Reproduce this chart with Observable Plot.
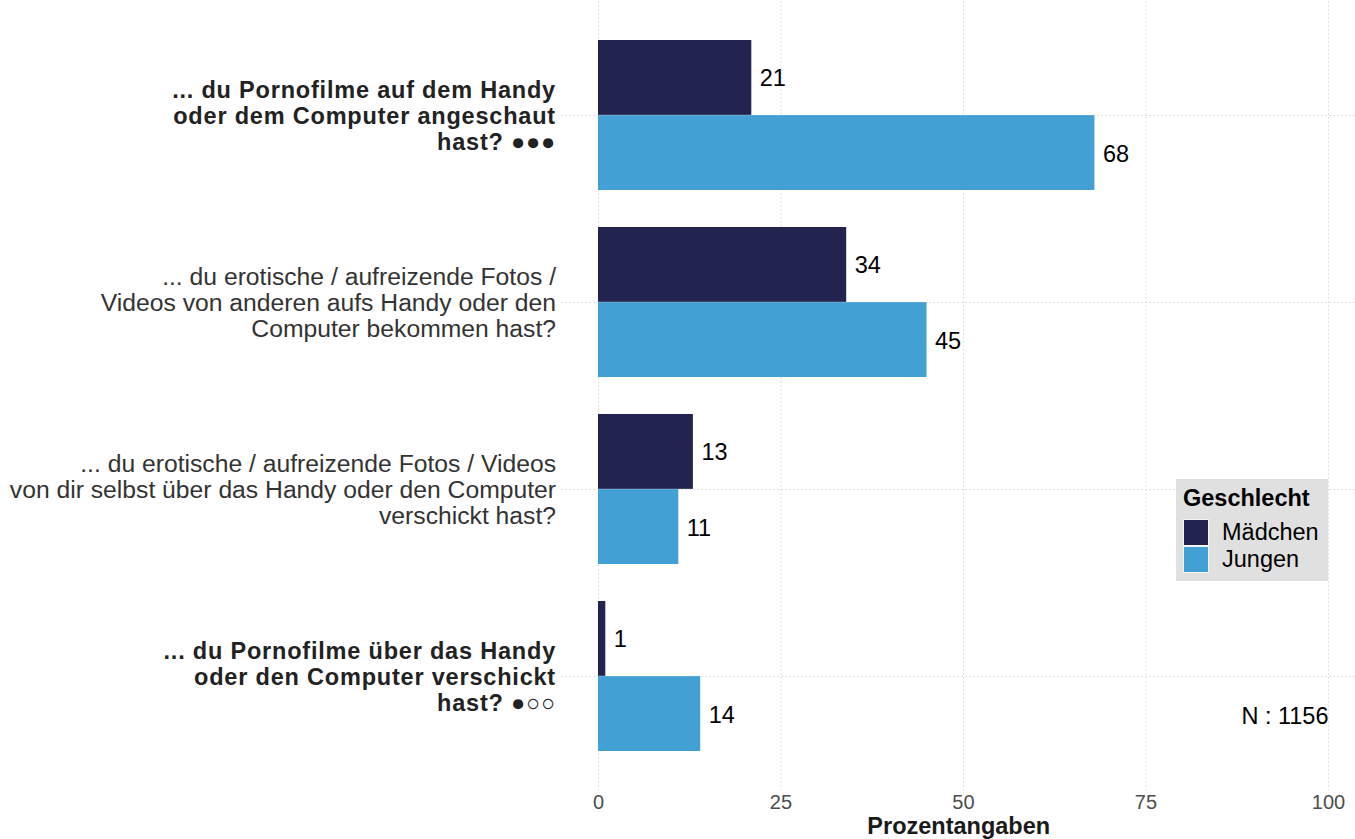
<!DOCTYPE html>
<html>
<head>
<meta charset="utf-8">
<script src="https://cdn.jsdelivr.net/npm/d3@7"></script>
<script src="https://cdn.jsdelivr.net/npm/@observablehq/plot@0.6"></script>
<style>
  html, body { margin: 0; padding: 0; background: #fff; }
  body { font-family: "Liberation Sans", Arial, sans-serif; }
  #wrap { position: relative; width: 1355px; height: 839px; overflow: hidden; }
  [aria-label="x-axis label"] text { font-weight: bold; fill: #1a1a1a; }
  #legend { position: absolute; left: 1176px; top: 479px; width: 152px; height: 102px;
            background: #e0e0e0; box-sizing: border-box; padding: 5px 0 0 7px; }
  #legend .t { font-weight: bold; font-size: 23.5px; color: #000; line-height: 28px; margin-bottom: 7px; }
  #legend .r { display: flex; align-items: center; height: 27px; font-size: 23.5px; color: #000; }
  #legend .s { width: 26px; height: 27px; margin-right: 13px; box-sizing: border-box; border: 1px solid #f4f4f4; }
</style>
</head>
<body>
<div id="wrap"></div>
<script>
const categories = [
  "... du Pornofilme auf dem Handy\noder dem Computer angeschaut\nhast? ●●●",
  "... du erotische / aufreizende Fotos /\nVideos von anderen aufs Handy oder den\nComputer bekommen hast?",
  "... du erotische / aufreizende Fotos / Videos\nvon dir selbst über das Handy oder den Computer\nverschickt hast?",
  "... du Pornofilme über das Handy\noder den Computer verschickt\nhast? ●○○"
];
const boldLabels = [true, false, false, true];
const maedchen = [21, 34, 13, 1];
const jungen = [68, 45, 11, 14];
const groups = ["Mädchen", "Jungen"];
const colors = ["#232350", "#43a0d4"];
const xTicks = [0, 25, 50, 75, 100];
const nLabel = "N : 1156";

const W = 1355, H = 839, mTop = 1, mBottom = 49, mLeft = 561.5;
const padInner = 0.2, padOuter = 0.2;
const step = (H - mTop - mBottom) / (categories.length - padInner + 2 * padOuter);
const bw = step * (1 - padInner);
const half = bw / 2;

const rowsM = categories.map((c, i) => ({cat: c, value: maedchen[i]}));
const rowsJ = categories.map((c, i) => ({cat: c, value: jungen[i]}));
const labelRows = categories.map((c, i) => ({cat: c, bold: boldLabels[i]}));

const chart = Plot.plot({
  width: W, height: H,
  marginTop: mTop, marginBottom: mBottom, marginLeft: mLeft, marginRight: 0,
  style: {fontFamily: "Liberation Sans, Arial, sans-serif", background: "#fff", overflow: "visible"},
  x: {domain: [-5, 103.7], ticks: xTicks, tickSize: 0, label: "Prozentangaben", labelAnchor: "center", labelArrow: "none"},
  y: {domain: categories, paddingInner: padInner, paddingOuter: padOuter, axis: null},
  marks: [
    Plot.ruleX(xTicks, {stroke: "#d6d6d6", strokeWidth: 1, strokeDasharray: "1.5,2.5"}),
    Plot.ruleY(categories, {y: d => d, stroke: "#d6d6d6", strokeWidth: 1, strokeDasharray: "1.5,2.5"}),
    Plot.barX(rowsM, {y: "cat", x1: 0, x2: "value", fill: colors[0], insetBottom: half}),
    Plot.barX(rowsJ, {y: "cat", x1: 0, x2: "value", fill: colors[1], insetTop: half}),
    Plot.text(rowsM, {y: "cat", x: "value", text: d => String(d.value), dx: 8, dy: -half / 2 + 1, textAnchor: "start", fontSize: 23.5, fill: "#000"}),
    Plot.text(rowsJ, {y: "cat", x: "value", text: d => String(d.value), dx: 8, dy: half / 2 + 1, textAnchor: "start", fontSize: 23.5, fill: "#000"}),
    Plot.text(labelRows.filter(d => d.bold), {y: "cat", text: "cat", frameAnchor: "left", dx: -6, textAnchor: "end", fontSize: 23.5, fontWeight: "bold", fill: "#222", lineHeight: 1.1}),
    Plot.text(labelRows.filter(d => !d.bold), {y: "cat", text: "cat", frameAnchor: "left", dx: -6, textAnchor: "end", fontSize: 24.7, fill: "#333", lineHeight: 1.05}),
    Plot.text([nLabel], {x: 100, y: [categories[3]], text: d => d, dy: half / 2 + 2, textAnchor: "end", fontSize: 23.5, fill: "#000"}),
    Plot.axisX({ticks: xTicks, tickSize: 0, tickPadding: 4, fontSize: 20, color: "#4d4d4d", label: "Prozentangaben", labelAnchor: "center", labelOffset: 43, labelArrow: "none"})
  ]
});

chart.querySelectorAll('[aria-label="x-axis label"] text').forEach(t => { t.setAttribute("font-size", "23.5"); t.setAttribute("fill", "#1a1a1a"); });
chart.querySelectorAll('g[font-weight="bold"]').forEach(g => g.setAttribute("letter-spacing", "0.8"));

const wrap = document.getElementById("wrap");
wrap.appendChild(chart);

const legend = document.createElement("div");
legend.id = "legend";
legend.innerHTML = `<div class="t">Geschlecht</div>` +
  groups.map((g, i) => `<div class="r"><div class="s" style="background:${colors[i]}"></div>${g}</div>`).join("");
wrap.appendChild(legend);
</script>
</body>
</html>
